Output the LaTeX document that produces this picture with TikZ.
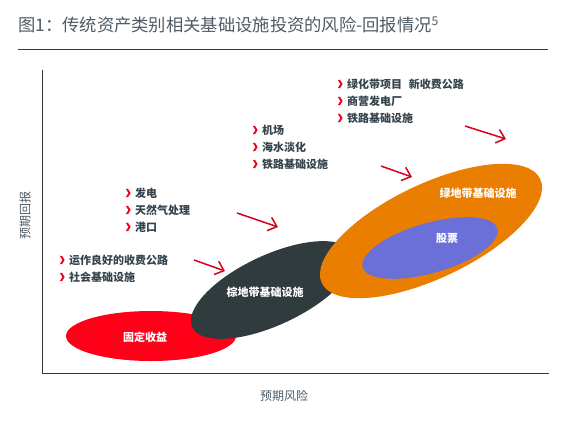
\documentclass[tikz,border=0pt]{standalone}
\usepackage{fontspec}
\setmainfont{Noto Sans CJK SC}
\usetikzlibrary{shapes.geometric,arrows.meta}
\definecolor{titlecol}{HTML}{4E5B66}
\definecolor{textcol}{HTML}{34434C}
\definecolor{axiscol}{HTML}{2E3A3F}
\definecolor{redE}{HTML}{FF0019}
\definecolor{darkE}{HTML}{2F3B3D}
\definecolor{orangeE}{HTML}{E97E00}
\definecolor{blueE}{HTML}{6A70D8}
\definecolor{arrowred}{HTML}{D8001A}
\definecolor{bulletred}{HTML}{F0001C}
\begin{document}
\begin{tikzpicture}[x=1pt,y=-1pt,
  lbl/.style={font=\fontsize{11}{13}\selectfont\bfseries, text=textcol, anchor=west, inner sep=0pt},
  ell/.style={ellipse, inner sep=0pt, draw=none},
  etext/.style={font=\fontsize{11}{13}\selectfont\bfseries, text=white, inner sep=0pt},
  arr/.style={draw=arrowred, line width=1.5pt, -{Straight Barb[length=8pt,width=14pt]}},
  chev/.pic={\fill[bulletred] (-2.2,-4.2) -- (0,-4.2) -- (2.6,0) -- (0,4.2) -- (-2.2,4.2) -- (0.4,0) -- cycle;}]
\path[use as bounding box] (0,0) rectangle (569,429);

% title
\node[anchor=west, font=\fontsize{17.3}{19}\selectfont, text=titlecol, inner sep=0pt] (title) at (18,25)
  {图1：传统资产类别相关基础设施投资的风险-回报情况\textsuperscript{5}};
\draw[axiscol, line width=0.8pt] (18,49) -- (548,49);

% axes
\draw[axiscol, line width=1pt] (42,70) -- (42,373) -- (549,373);
\node[rotate=90, font=\fontsize{12}{14}\selectfont, text=titlecol, inner sep=0pt] (ylab) at (25,215) {预期回报};
\node[font=\fontsize{12}{14}\selectfont, text=titlecol, inner sep=0pt] (xlab) at (284,396) {预期风险};

% ellipses
\node[ell, fill=redE, minimum width=170pt, minimum height=50pt] (fi) at (151,336) {};
\node[ell, fill=darkE, minimum width=176pt, minimum height=70pt, rotate=25] (bf) at (272,290) {};
\node[ell, fill=orangeE, minimum width=242pt, minimum height=94pt, rotate=25.5] (gf) at (431,231) {};
\node[ell, fill=blueE, minimum width=140pt, minimum height=50pt, rotate=16] (eq) at (430,248) {};

\node[etext] (fil) at (145,337) {固定收益};
\node[etext] (bfl) at (265,292) {棕地带基础设施};
\node[etext] (gfl) at (478,193) {绿地带基础设施};
\node[etext] (eql) at (447,238) {股票};

% bullet groups
\node[lbl] (a1) at (69,260) {运作良好的收费公路};
\node[lbl] (a2) at (69,277) {社会基础设施};
\node[lbl] (b1) at (135,193) {发电};
\node[lbl] (b2) at (135,210) {天然气处理};
\node[lbl] (b3) at (135,227) {港口};
\node[lbl] (c1) at (262,130) {机场};
\node[lbl] (c2) at (262,147) {海水淡化};
\node[lbl] (c3) at (262,164) {铁路基础设施};
\node[lbl] (d1) at (347,84) {绿化带项目\hspace{0.6em}新收费公路};
\node[lbl] (d2) at (347,101) {商营发电厂};
\node[lbl] (d3) at (347,118) {铁路基础设施};
\foreach \n in {a1,a2,b1,b2,b3,c1,c2,c3,d1,d2,d3}
  \pic at ([xshift=-7pt]\n.west) {chev};

% arrows
\coordinate (p1s) at (194,260); \coordinate (p1e) at (225,271);
\coordinate (p2s) at (237,213); \coordinate (p2e) at (278,227);
\coordinate (p3s) at (381,166); \coordinate (p3e) at (412,177);
\coordinate (p4s) at (465,126); \coordinate (p4e) at (506,139);
\draw[arr] (p1s) -- (p1e);
\draw[arr] (p2s) -- (p2e);
\draw[arr] (p3s) -- (p3e);
\draw[arr] (p4s) -- (p4e);
\end{tikzpicture}
\end{document}
